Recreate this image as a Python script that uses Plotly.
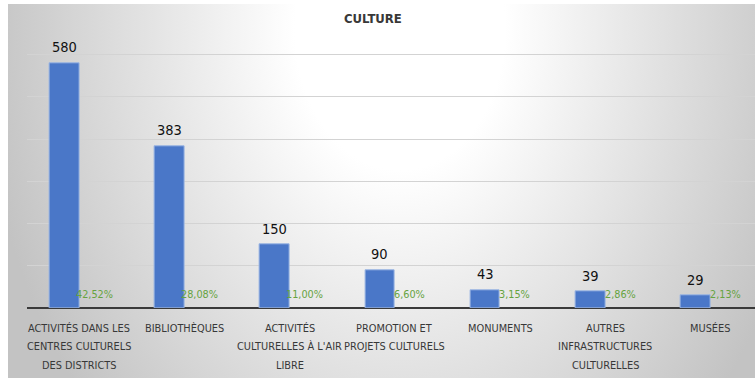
import base64
import plotly.graph_objects as go

# ---- data -------------------------------------------------------------
categories = [
    "ACTIVITÉS DANS LES\nCENTRES CULTURELS\nDES DISTRICTS",
    "BIBLIOTHÈQUES",
    "ACTIVITÉS\nCULTURELLES À L'AIR\nLIBRE",
    "PROMOTION ET\nPROJETS CULTURELS",
    "MONUMENTS",
    "AUTRES\nINFRASTRUCTURES\nCULTURELLES",
    "MUSÉES",
]
counts = [580, 383, 150, 90, 43, 39, 29]
shares = [42.52, 28.08, 11.00, 6.60, 3.15, 2.86, 2.13]
title_text = "CULTURE"

# ---- geometry / style ---------------------------------------------------
W, H = 755, 380
X_LEFT_PX = 26.6          # left edge of plotting area
Y_BASE_PX = 308.0         # baseline (value 0)
Y_TOP_PX = 12.3           # value 700
CAT_PX = 105.2            # width of one category slot
BAR_W = 0.282             # bar width in category units
FONT = "DejaVu Sans Condensed, Liberation Sans Narrow, sans-serif"
LABEL_GREY = "#383838"
GREEN = "#66A33F"
BAR_BLUE = "#4A77C8"

idx = list(range(len(categories)))

# soft radial background
svg = f"""<svg xmlns='http://www.w3.org/2000/svg' width='{W}' height='{H}' viewBox='0 0 {W} {H}' preserveAspectRatio='none'>
<defs><radialGradient id='g' gradientUnits='userSpaceOnUse' cx='0' cy='0' r='1'
 gradientTransform='translate(400 30) scale(420 560)'>
<stop offset='0' stop-color='#ffffff'/><stop offset='0.25' stop-color='#ffffff'/>
<stop offset='1' stop-color='#c3c3c3'/></radialGradient></defs>
<rect width='{W}' height='{H}' fill='#ffffff'/>
<rect x='8' y='4' width='{W-8}' height='{H-6}' fill='url(#g)'/></svg>"""
bg_uri = "data:image/svg+xml;base64," + base64.b64encode(svg.encode()).decode()

fig = go.Figure()
fig.add_trace(go.Bar(
    x=idx, y=counts, offset=-BAR_W, width=BAR_W,
    marker=dict(color=BAR_BLUE, line=dict(color="#9BB5E3", width=1)),
    hoverinfo="skip", showlegend=False,
))

annotations = []
# value labels above bars
for i, v in zip(idx, counts):
    annotations.append(dict(
        x=i - BAR_W / 2, y=v, xref="x", yref="y", text=str(v), showarrow=False,
        yanchor="bottom", yshift=6, font=dict(family=FONT, size=14.5, color="#111111"),
    ))
# share labels next to bars
for i, s in zip(idx, shares):
    annotations.append(dict(
        x=i + BAR_W / 2, y=0, xref="x", yref="y",
        text=f"{s:.2f}%".replace(".", ","), showarrow=False,
        yanchor="bottom", yshift=5, font=dict(family=FONT, size=10.8, color=GREEN),
    ))
# category labels, one line at a time
for i, lab in zip(idx, categories):
    for j, line in enumerate(lab.split("\n")):
        annotations.append(dict(
            x=i, y=0, xref="x", yref="y", text=line, showarrow=False,
            yanchor="top", yshift=-11.6 - 18.8 * j,
            font=dict(family=FONT, size=10.9, color=LABEL_GREY),
        ))
# chart title
annotations.append(dict(
    x=372.5 / W, y=1 - 9.3 / H, xref="paper", yref="paper", text=f"<b>{title_text}</b>",
    showarrow=False, xanchor="center", yanchor="top",
    font=dict(family=FONT, size=13, color=LABEL_GREY),
))

fig.update_layout(
    width=W, height=H, autosize=False,
    margin=dict(l=0, r=0, t=0, b=0),
    paper_bgcolor="rgba(0,0,0,0)", plot_bgcolor="rgba(0,0,0,0)",
    images=[dict(source=bg_uri, xref="paper", yref="paper", x=0, y=1, sizex=1, sizey=1,
                 xanchor="left", yanchor="top", sizing="stretch", layer="below")],
    xaxis=dict(domain=[X_LEFT_PX / W, 1], range=[-0.5, -0.5 + (W - X_LEFT_PX) / CAT_PX],
               showgrid=False, zeroline=False, showticklabels=False, showline=False,
               fixedrange=True),
    yaxis=dict(domain=[(H - Y_BASE_PX) / H, (H - Y_TOP_PX) / H], range=[0, 700], dtick=100,
               showgrid=True, gridcolor="#d3d3d3", gridwidth=1,
               zeroline=True, zerolinecolor="#3a3a3a", zerolinewidth=2,
               showticklabels=False, showline=False, fixedrange=True),
    annotations=annotations,
    bargap=0,
)

fig.write_html("out.html")
